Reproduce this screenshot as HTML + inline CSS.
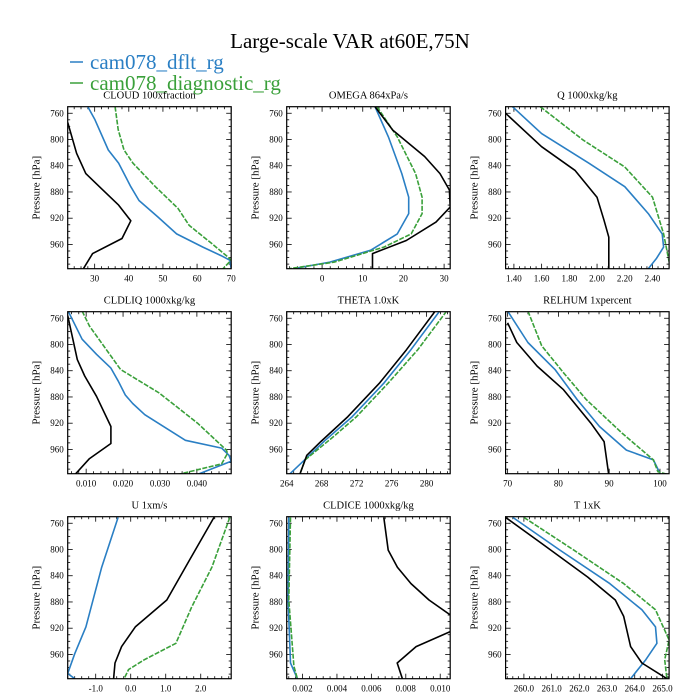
<!DOCTYPE html>
<html><head><meta charset="utf-8"><style>
body{margin:0;background:#fff;}
svg{display:block;font-family:"Liberation Serif",serif;}
</style></head><body>
<svg id="chart" width="700" height="700" viewBox="0 0 700 700" xmlns="http://www.w3.org/2000/svg">
<rect width="700" height="700" fill="#fff"/>
<text x="350" y="48" font-size="21" text-anchor="middle">Large-scale VAR at60E,75N</text>
<line x1="70" y1="62" x2="83" y2="62" stroke="#2a7fc4" stroke-width="1.5"/>
<text x="90" y="69" font-size="21" fill="#2a7fc4">cam078_dflt_rg</text>
<line x1="70" y1="83" x2="83" y2="83" stroke="#3aa03a" stroke-width="1.5"/>
<text x="90" y="90" font-size="21" fill="#3aa03a">cam078_diagnostic_rg</text>
</svg>
<script>
const titles=["CLOUD  100xfraction","OMEGA  864xPa/s","Q  1000xkg/kg","CLDLIQ  1000xkg/kg","THETA  1.0xK","RELHUM  1xpercent","U  1xm/s","CLDICE  1000xkg/kg","T  1xK"];
const xRanges=[[22.1,70],[-8.7,31.5],[1.34,2.52],[0.005,0.0493],[264,282.7],[69.6,101.8],[-1.8,2.87],[0.00108,0.01058],[259.34,265.24]];
const xTicks=[[30,40,50,60,70],[0,10,20,30],[1.4,1.6,1.8,2.0,2.2,2.4],[0.01,0.02,0.03,0.04],[264,268,272,276,280],[70,80,90,100],[-1,0,1,2],[0.002,0.004,0.006,0.008,0.010],[260,261,262,263,264,265]];
const xTickDec=[0,0,2,3,0,0,1,3,1];
const yTicks=[760,800,840,880,920,960];
const pRange=[750,997];
const blackP=[[774,821,852,875,900,924,951,974,997],[750,786,826,852,877,903,926,954,974,997],[760,811,847,888,923,949,997],[756,823,848,879,925,951,974,998],[749,808,859,910,948,969,998],[767,797,833,869,920,948,998],[751,817,877,918,948,973,997],[751,801,827,852,877,900,925,948,973,997],[751,791,842,877,902,948,973,997]];
const blackV=[[22.1,24.7,27.4,32,37,40.6,38,29.4,26.7],[13,17.4,25.2,29,31.3,31.5,28,20.7,12.4,12.4],[1.34,1.6,1.84,2.0,2.05,2.085,2.085],[0.005,0.0076,0.0096,0.0128,0.0167,0.0167,0.0109,0.007],[281,277.7,274.6,271,267.9,266.3,265.5],[70,71.8,75.8,81,86.4,89,89.9],[2.38,1.67,1.03,0.13,-0.26,-0.45,-0.49],[0.00672,0.00698,0.00751,0.0083,0.00935,0.0106,0.0106,0.0086,0.0075,0.0078],[259.34,260.65,262.3,263.3,263.6,263.85,264.26,265.16]];
const blueP=[[750,769,816,836,872,893,918,944,964,977,984,997],[750,796,852,888,913,944,969,987,997],[750,791,836,872,913,944,964,981,997],[749,792,815,836,856,877,890,907,946,958,969,978,998],[749,808,859,910,946,998],[749,797,838,884,925,961,976,998],[751,827,918,959,989,997],[751,877,973,997],[751,801,852,892,918,943,968,997]];
const blueV=[[28,30,34,37,40.6,43,48.5,54,61.7,67,69.6,70],[13,16.3,19.6,21.3,21.3,18.5,11.9,1.9,-7],[1.39,1.6,1.94,2.2,2.37,2.47,2.48,2.43,2.37],[0.0051,0.0089,0.0128,0.0167,0.0187,0.0206,0.0226,0.0259,0.0369,0.0467,0.0487,0.0493,0.0402],[281.5,278.2,275.1,271.5,268.4,264.3],[70,74,79.3,83.7,88.1,93.4,98.7,100.1],[-0.36,-0.83,-1.28,-1.6,-1.8,-1.6],[0.0012,0.00116,0.0013,0.0017],[259.6,261.3,263.1,264.26,264.75,264.8,264.4,263.85]];
const greenP=[[750,785,816,836,872,905,931,959,979,984,997],[750,796,852,888,913,944,964,987,997],[750,801,842,888,944,997],[749,772,838,874,920,961,966,982,998],[749,808,859,910,940,976,998],[749,802,843,884,935,976,994,998],[751,827,888,943,968,983,997],[751,877,978,997],[751,801,852,892,938,968,997]];
const greenV=[[36,36.9,38.6,41.2,47.8,54.4,57.7,64.4,69,70,67.6],[13.5,18.5,23,24.6,24.6,21.9,15.2,3,-8.1],[1.59,1.9,2.2,2.4,2.48,2.53],[0.0089,0.0109,0.0193,0.0298,0.0402,0.048,0.0483,0.0467,0.035],[282.3,279,275.6,272,269.4,266.1,265.5],[74,76.7,81,85.5,92.5,98.7,99.6,101.4],[2.83,2.32,1.74,1.29,0.39,-0.06,-0.19],[0.0013,0.0012,0.0015,0.0017],[260,261.8,263.6,264.75,265.24,265.08,265.16]];

const colL=[67.7,286.7,505.6], colW=163.5;
const rowT=[106.7,311.7,516.7], rowH=162;
const NS="http://www.w3.org/2000/svg";
const svg=document.getElementById('chart');
function mk(tag,attrs,parent){const e=document.createElementNS(NS,tag);for(const k in attrs)e.setAttribute(k,attrs[k]);(parent||svg).appendChild(e);return e;}
for(let i=0;i<9;i++){
  const L=colL[i%3],T=rowT[Math.floor(i/3)],W=colW,H=rowH;
  const [x0,x1]=xRanges[i];
  const sx=v=>L+(v-x0)/(x1-x0)*W;
  const sy=p=>T+(p-pRange[0])/(pRange[1]-pRange[0])*H;
  const g=mk('g',{});
  
  
  const t=mk('text',{x:L+W/2,y:T-8,'font-size':10.5,'text-anchor':'middle'},g);
  t.textContent=titles[i];
  
  
  const yl=mk('text',{x:0,y:0,'font-size':11,'text-anchor':'middle',transform:`translate(${L-28},${T+H/2}) rotate(-90)`},g);
  yl.textContent='Pressure [hPa]';
  
  
  for(let p=760;p<=990;p+=10){
    const y=sy(p),major=(p-760)%40===0,len=major?5:2.5;
    mk('line',{x1:L,y1:y,x2:L+len,y2:y,stroke:'#000','stroke-width':0.8},g);
    mk('line',{x1:L+W,y1:y,x2:L+W-len,y2:y,stroke:'#000','stroke-width':0.8},g);
  }
  yTicks.forEach(p=>{const tl=mk('text',{x:L-4,y:sy(p)+3,'font-size':9,'text-anchor':'end'},g);tl.textContent=p;
    
    });
  const tk=xTicks[i],step=tk[1]-tk[0],minor=step/5;
  for(let v=tk[0]-step;v<=x1+1e-9;v+=minor){
    if(v<x0-1e-9)continue;
    const x=sx(v),k=Math.round((v-tk[0])/minor),major=k%5===0,len=major?5:2.5;
    mk('line',{x1:x,y1:T+H,x2:x,y2:T+H-len,stroke:'#000','stroke-width':0.8},g);
    mk('line',{x1:x,y1:T,x2:x,y2:T+len,stroke:'#000','stroke-width':0.8},g);
  }
  tk.forEach(v=>{const tl=mk('text',{x:sx(v),y:T+H+13,'font-size':9,'text-anchor':'middle'},g);tl.textContent=v.toFixed(xTickDec[i]);
    
    });
  const cid='clip'+i;
  const cp=mk('clipPath',{id:cid},g);mk('rect',{x:L,y:T,width:W,height:H},cp);
  const series=[[blueP[i],blueV[i],'#2a7fc4','','line-dflt'],[greenP[i],greenV[i],'#3aa03a','5 1.5','line-diagnostic'],[blackP[i],blackV[i],'#000','','line-obs']];
  series.forEach(([P,V,c,d,nm])=>{
    const pts=P.map((p,j)=>sx(V[j]).toFixed(1)+','+sy(p).toFixed(1)).join(' ');
    const pl=mk('polyline',{points:pts,fill:'none',stroke:c,'stroke-width':1.6,'stroke-dasharray':d,'clip-path':`url(#${cid})`,'stroke-linejoin':'round'},g);
    
    
  });
  mk('rect',{x:L,y:T,width:W,height:H,fill:'none',stroke:'#000','stroke-width':1.2},g);
}
</script>
</body></html>
